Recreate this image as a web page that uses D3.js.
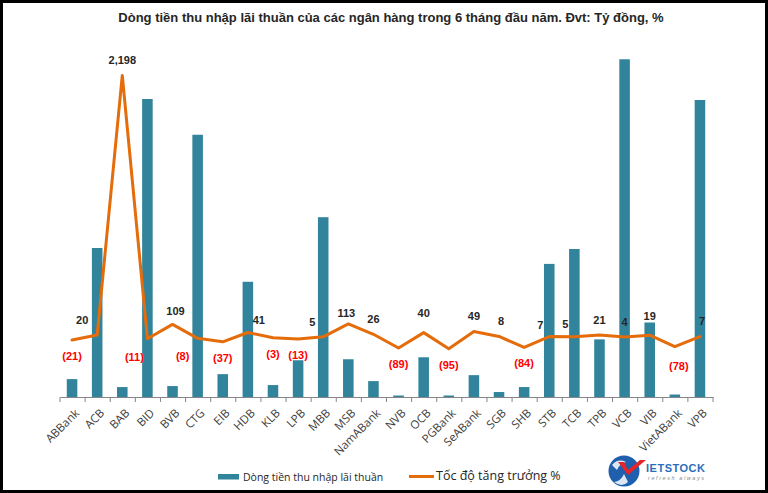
<!DOCTYPE html>
<html>
<head>
<meta charset="utf-8">
<script src="https://cdn.jsdelivr.net/npm/d3@7/dist/d3.min.js"></script>
<style>
  html, body { margin: 0; padding: 0; background: #fff; }
  svg { display: block; }
</style>
</head>
<body>
<div id="chart"></div>
<script>
// ---------- data ----------
const categories = ["ABBank","ACB","BAB","BID","BVB","CTG","EIB","HDB","KLB","LPB","MBB","MSB","NamABank","NVB","OCB","PGBank","SeABank","SGB","SHB","STB","TCB","TPB","VCB","VIB","VietABank","VPB"];
const netInterest = [900,7500,500,15000,550,13200,1150,5800,600,1850,9050,1900,800,75,2000,75,1100,250,500,6700,7450,2900,17000,3750,125,14950];
const growth = [-21,20,2198,-11,109,-8,-37,41,-3,-13,5,113,26,-89,40,-95,49,8,-84,7,5,21,4,19,-78,7];
const leftDomain = [0, 18000];
const rightDomain = [-500, 2500];
const title = "Dòng tiền thu nhập lãi thuần của các ngân hàng trong 6 tháng đầu năm. Đvt: Tỷ đồng, %";
const legendLabels = ["Dòng tiền thu nhập lãi thuần", "Tốc độ tăng trưởng %"];

// label nudges (manual placement in the source chart)
const labelNudge = {
  ACB:[-15,0], BID:[-13,2], BVB:[3,1.5], CTG:[-15,2], HDB:[11,3], MBB:[-11,0],
  MSB:[-2,4], OCB:[0,-4], STB:[-9,4], TCB:[-9,2.5], VIB:[0,-4], VietABank:[4,3],
  SGB:[2,0], VPB:[2,0]
};

// ---------- layout ----------
const W = 768, H = 493;
const plot = { left: 60, right: 713, top: 39.4, bottom: 397 };
const barColor = "#31849B", lineColor = "#E46C0A";

const svg = d3.select("#chart").append("svg").attr("width", W).attr("height", H);

svg.append("rect").attr("x", 1.5).attr("y", 1.5).attr("width", W - 3).attr("height", H - 3)
  .attr("fill", "#fff").attr("stroke", "#000").attr("stroke-width", 3);

svg.append("text").attr("x", 391).attr("y", 22).attr("text-anchor", "middle")
  .attr("font-family", "Liberation Sans, Arial, sans-serif").attr("font-weight", "bold")
  .attr("font-size", 13).attr("fill", "#262626").text(title);

const x = d3.scaleBand().domain(categories).range([plot.left, plot.right]).padding(0);
const yL = d3.scaleLinear().domain(leftDomain).range([plot.bottom, plot.top]);
const yR = d3.scaleLinear().domain(rightDomain).range([plot.bottom, plot.top]);
const barW = x.bandwidth() * 0.42;
const cx = d => x(d) + x.bandwidth() / 2 - 0.5;

// bars
svg.append("g").selectAll("rect").data(categories).join("rect")
  .attr("x", d => cx(d) - barW / 2)
  .attr("y", (d, i) => yL(netInterest[i]))
  .attr("width", barW)
  .attr("height", (d, i) => yL(0) - yL(netInterest[i]))
  .attr("fill", barColor);

// x axis
const xAxis = d3.axisBottom(x).tickSize(0).tickFormat("");
const gx = svg.append("g").attr("transform", `translate(0,${plot.bottom})`).call(xAxis);
gx.select(".domain").attr("stroke", "#868686").attr("stroke-width", 1);
gx.selectAll(".tick").remove();
const boundaries = categories.map(d => x(d)).concat([plot.right]);
gx.selectAll("line.sep").data(boundaries).join("line").attr("class", "sep")
  .attr("x1", d => d).attr("x2", d => d).attr("y1", 0).attr("y2", 5)
  .attr("stroke", "#868686");

svg.append("g").selectAll("text").data(categories).join("text")
  .attr("transform", d => `translate(${cx(d) + 5},${plot.bottom + 14}) rotate(-45)`)
  .attr("text-anchor", "end").attr("dy", "0.35em")
  .attr("font-family", "Open Sans, sans-serif").attr("font-size", 11.5).attr("fill", "#404040")
  .text(d => d);

// line
const line = d3.line().x(d => cx(d)).y((d, i) => yR(growth[i]));
svg.append("path").datum(categories).attr("d", line)
  .attr("fill", "none").attr("stroke", lineColor).attr("stroke-width", 3)
  .attr("stroke-linejoin", "round").attr("stroke-linecap", "round");

// data labels
const fmt = v => v < 0 ? `(${d3.format(",")(-v)})` : d3.format(",")(v);
svg.append("g").selectAll("text").data(categories).join("text")
  .attr("x", (d, i) => cx(d) + (labelNudge[d] ? labelNudge[d][0] : 0))
  .attr("y", (d, i) => yR(growth[i]) + (growth[i] < 0 ? 16 : -15) + (labelNudge[d] ? labelNudge[d][1] : 0))
  .attr("dy", "0.35em").attr("text-anchor", "middle")
  .attr("font-family", "Liberation Sans, Arial, sans-serif").attr("font-weight", "bold").attr("font-size", 11)
  .attr("fill", (d, i) => growth[i] < 0 ? "#FF0000" : "#262626")
  .text((d, i) => fmt(growth[i]));

// legend
const lg = svg.append("g");
lg.append("rect").attr("x", 218).attr("y", 474).attr("width", 21).attr("height", 5.5).attr("fill", barColor);
lg.append("text").attr("x", 243).attr("y", 477).attr("dy", "0.35em")
  .attr("font-family", "Open Sans, sans-serif").attr("font-size", 10.5).attr("fill", "#262626").text(legendLabels[0]);
lg.append("line").attr("x1", 409).attr("x2", 434).attr("y1", 476.5).attr("y2", 476.5)
  .attr("stroke", lineColor).attr("stroke-width", 3);
lg.append("text").attr("x", 436).attr("y", 476).attr("dy", "0.35em")
  .attr("font-family", "Open Sans, sans-serif").attr("font-size", 12.5).attr("fill", "#262626").text(legendLabels[1]);

// logo
const logo = svg.append("g");
logo.append("circle").attr("cx", 624).attr("cy", 471).attr("r", 15.5).attr("fill", "#1F5FAE");
logo.append("path").attr("d", "M612,465 Q618,458 626,462 Q620,463 617,470 Z").attr("fill", "#fff").attr("opacity", 0.85);
logo.append("path").attr("d", "M628,482 Q622,488 614,482 Q621,481 624,474 Z").attr("fill", "#fff").attr("opacity", 0.85);
logo.append("path").attr("d", "M618,462 L628,475 L646,460 L640,460 L628,470 L624,462 Z").attr("fill", "#E5252A");
logo.append("text").attr("x", 646).attr("y", 472).attr("font-family", "Liberation Sans, Arial, sans-serif")
  .attr("font-weight", "bold").attr("font-size", 11).attr("fill", "#2A6EBB").attr("textLength", 59).text("IETSTOCK");
logo.append("text").attr("x", 648).attr("y", 480).attr("font-family", "Liberation Sans, Arial, sans-serif")
  .attr("font-style", "italic").attr("font-size", 5.5).attr("fill", "#8a8a8a").attr("textLength", 56).text("refresh always");
</script>
</body>
</html>
